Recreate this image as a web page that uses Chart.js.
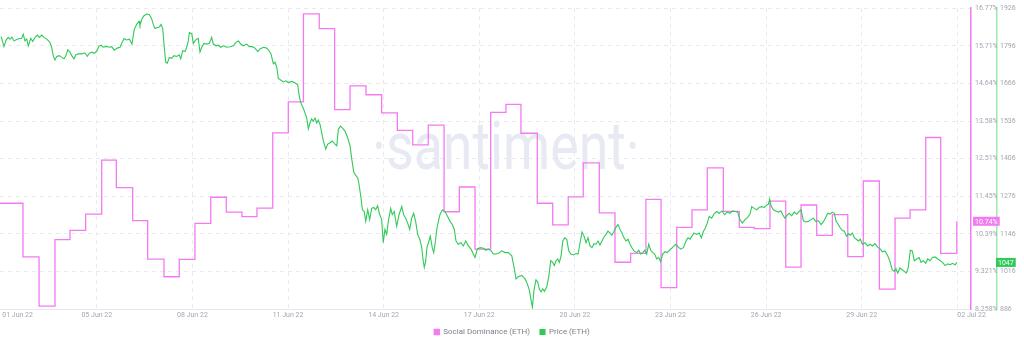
<!DOCTYPE html>
<html><head><meta charset="utf-8">
<script src="https://cdn.jsdelivr.net/npm/chart.js@4/dist/chart.umd.min.js"></script>
<style>html,body{margin:0;padding:0;background:#fff;overflow:hidden}canvas{display:block}</style>
</head><body>
<canvas id="c" width="1024" height="347"></canvas>
<script>
// ---- data (hours from 02 Jun 00:00) ----
const xTickHours = [0,72,144,216,288,360,432,504,576,648,720];
const xTickLabels = ["01 Jun 22","05 Jun 22","08 Jun 22","11 Jun 22","14 Jun 22","17 Jun 22","20 Jun 22","23 Jun 22","26 Jun 22","29 Jun 22","02 Jul 22"];
const dominanceTicks = ["8.258%","9.321%","10.39%","11.45%","12.51%","13.58%","14.64%","15.71%","16.77%"];
const priceTicks = [886,1016,1146,1276,1406,1536,1666,1796,1926];

const dominanceSeries = [[-1,11.25],[16.4,9.73],[28.5,8.34],[40.5,10.22],[51.8,10.48],[63.6,10.94],[75.7,12.47],[86.7,11.69],[99.0,10.76],[110.3,9.67],[122.6,9.17],[134.1,9.66],[145.9,10.68],[157.8,11.42],[169.5,11.00],[181.3,10.87],[192.6,11.11],[204.5,13.24],[216.2,14.12],[227.6,16.61],[239.5,16.19],[251.1,13.90],[262.7,14.57],[274.7,14.32],[286.5,13.81],[298.3,13.31],[309.9,12.90],[321.6,13.46],[333.5,11.01],[345.0,11.71],[356.8,9.95],[368.6,13.82],[380.1,14.05],[391.4,13.23],[403.7,11.25],[415.3,10.64],[427.0,11.43],[438.3,12.39],[450.4,10.98],[462.2,9.58],[474.0,9.83],[485.5,11.36],[496.9,8.86],[508.7,10.57],[520.2,11.06],[531.7,12.25],[543.8,11.02],[555.8,10.57],[567.1,10.53],[578.9,11.31],[590.8,9.44],[602.3,11.20],[614.1,10.34],[625.9,10.93],[637.5,9.74],[649.2,11.88],[661.3,8.82],[673.1,10.83],[684.4,11.06],[696.2,13.11],[707.5,9.83],[719.6,10.74]];

const priceSeries = [[0,1828],[2.1,1793],[3.6,1815],[5.3,1825],[6.6,1819],[8.1,1826],[9.6,1813],[11.7,1818],[13.6,1821],[15.4,1822],[16.6,1836],[17.9,1813],[19.2,1820],[20.4,1796],[22.2,1822],[23.7,1811],[25.5,1825],[27.2,1833],[28.7,1825],[30.5,1833],[32.2,1825],[34.3,1819],[36.7,1808],[38.0,1791],[39.2,1762],[40.5,1747],[41.8,1759],[43.8,1762],[45.6,1756],[47.3,1751],[48.8,1762],[50.1,1782],[51.8,1774],[53.1,1762],[54.8,1751],[56.3,1765],[58.1,1768],[60.6,1768],[63.1,1771],[64.8,1760],[66.3,1770],[68.2,1774],[69.9,1770],[71.9,1776],[73.6,1794],[75.2,1798],[76.9,1791],[78.9,1794],[81.4,1791],[83.2,1793],[85.2,1781],[87.4,1788],[89.5,1791],[90.7,1804],[92.5,1821],[94.5,1816],[96.5,1819],[98.5,1802],[100.2,1853],[102.0,1870],[103.8,1881],[104.5,1867],[105.8,1887],[107.5,1900],[109.6,1906],[111.5,1904],[113.3,1890],[114.5,1870],[115.8,1856],[117.6,1859],[119.1,1861],[120.3,1870],[121.6,1856],[122.8,1791],[123.9,1739],[125.1,1736],[126.6,1756],[128.4,1753],[130.1,1762],[132.2,1759],[134.1,1765],[135.2,1751],[136.7,1779],[138.4,1776],[139.7,1791],[140.9,1813],[141.7,1842],[143.5,1838],[144.7,1804],[145.9,1813],[147.2,1819],[148.4,1822],[149.7,1774],[151.0,1791],[152.7,1804],[154.8,1802],[156.7,1804],[158.5,1825],[159.7,1802],[161.8,1796],[163.5,1798],[165.3,1791],[167.3,1796],[169.8,1791],[172.3,1793],[174.8,1796],[176.8,1808],[178.6,1813],[180.4,1802],[182.3,1796],[184.9,1802],[186.8,1793],[189.1,1793],[191.1,1788],[193.2,1776],[194.9,1785],[197.4,1791],[199.9,1788],[201.7,1779],[203.2,1768],[204.9,1734],[206.2,1739],[207.5,1722],[208.7,1683],[210.7,1677],[212.4,1671],[214.2,1675],[216.2,1669],[218.8,1673],[221.2,1668],[223.3,1660],[224.5,1620],[225.8,1597],[227.5,1580],[228.8,1563],[230.1,1546],[231.3,1509],[232.5,1529],[233.8,1543],[235.0,1535],[236.3,1546],[237.6,1529],[238.8,1539],[240.1,1524],[241.4,1495],[242.6,1467],[244.4,1439],[245.9,1456],[247.6,1461],[249.3,1467],[250.8,1459],[252.7,1450],[253.9,1507],[255.4,1518],[256.9,1512],[258.9,1501],[260.9,1478],[262.7,1450],[264.0,1404],[265.5,1359],[267.0,1348],[268.5,1339],[269.4,1319],[271.0,1268],[272.0,1229],[273.4,1223],[274.5,1189],[276.0,1229],[277.5,1195],[279.0,1234],[280.5,1237],[282.0,1229],[283.5,1243],[284.7,1217],[286.5,1195],[287.7,1115],[289.0,1161],[290.3,1144],[291.5,1189],[293.3,1234],[294.5,1212],[296.0,1223],[297.8,1172],[299.6,1212],[301.6,1240],[303.1,1212],[304.6,1200],[306.1,1183],[307.6,1161],[309.1,1200],[310.6,1217],[312.1,1189],[313.6,1144],[315.2,1127],[316.7,1098],[317.6,1059],[318.6,1030],[319.7,1053],[320.6,1098],[322.1,1121],[323.1,1138],[324.6,1098],[325.7,1081],[326.7,1110],[328.0,1161],[329.2,1189],[330.4,1212],[332.2,1229],[334.2,1223],[336.2,1206],[338.0,1189],[339.7,1178],[341.2,1161],[342.5,1121],[344.2,1110],[346.3,1115],[348.0,1104],[349.8,1121],[351.8,1104],[353.8,1093],[355.5,1076],[356.8,1064],[358.5,1093],[360.6,1098],[363.1,1096],[364.9,1089],[366.8,1093],[368.9,1087],[370.6,1076],[371.9,1076],[374.4,1078],[376.9,1087],[379.4,1081],[381.9,1081],[384.5,1070],[386.2,1030],[387.7,990],[389.4,998],[392.0,1002],[394.5,990],[396.2,973],[397.7,951],[398.8,922],[400.0,892],[401.2,951],[402.7,987],[404.0,979],[405.2,956],[406.5,945],[407.8,956],[409.0,947],[410.8,962],[412.3,996],[413.8,1053],[415.3,1047],[416.5,1036],[417.8,1053],[419.1,1059],[420.3,1047],[421.6,1070],[422.9,1121],[424.4,1132],[425.9,1127],[427.4,1087],[428.9,1076],[430.9,1073],[432.9,1078],[434.4,1076],[435.9,1115],[437.4,1152],[438.9,1138],[440.4,1115],[441.9,1132],[443.4,1104],[444.9,1098],[446.4,1112],[447.9,1110],[449.4,1121],[450.9,1107],[452.4,1121],[453.9,1135],[455.4,1144],[456.9,1155],[458.4,1149],[459.9,1141],[461.5,1155],[463.0,1169],[464.5,1178],[466.0,1161],[467.5,1149],[469.0,1132],[470.5,1121],[472.0,1127],[473.5,1110],[475.0,1098],[476.5,1087],[478.6,1081],[480.1,1089],[481.6,1076],[483.1,1081],[484.6,1089],[486.1,1076],[487.6,1110],[489.1,1089],[490.6,1081],[492.1,1076],[493.6,1059],[495.1,1064],[496.6,1050],[498.1,1076],[499.9,1084],[501.6,1081],[503.1,1089],[504.9,1096],[506.6,1104],[508.2,1110],[509.9,1100],[511.7,1093],[513.7,1098],[515.7,1121],[517.2,1132],[518.7,1127],[520.2,1138],[521.7,1149],[523.7,1144],[525.7,1149],[527.2,1132],[528.7,1153],[530.2,1166],[531.7,1183],[533.2,1206],[535.0,1200],[536.7,1214],[538.8,1223],[540.7,1217],[542.8,1225],[544.8,1212],[546.7,1221],[548.8,1217],[550.8,1225],[552.6,1223],[554.6,1221],[556.3,1195],[558.1,1183],[560.1,1195],[562.1,1203],[563.9,1214],[565.2,1240],[567.1,1234],[568.9,1229],[570.7,1237],[572.7,1240],[574.7,1237],[576.5,1246],[577.7,1248],[578.7,1266],[579.7,1243],[581.5,1229],[583.3,1225],[585.2,1221],[587.2,1225],[588.5,1212],[590.2,1200],[591.5,1209],[593.3,1217],[595.3,1209],[597.2,1221],[599.1,1214],[600.8,1223],[602.3,1229],[604.1,1191],[605.9,1187],[607.8,1189],[609.9,1195],[611.6,1200],[613.4,1189],[615.4,1191],[617.4,1178],[619.1,1187],[620.9,1203],[622.5,1217],[624.2,1214],[625.9,1221],[627.4,1217],[628.7,1189],[630.4,1178],[631.9,1166],[633.4,1157],[635.0,1155],[636.5,1138],[638.0,1146],[639.5,1141],[641.0,1149],[642.5,1132],[644.0,1127],[645.5,1121],[647.0,1127],[648.5,1110],[650.5,1115],[652.5,1104],[654.3,1110],[656.0,1104],[658.0,1112],[660.0,1100],[662.0,1093],[663.5,1084],[665.5,1087],[667.6,1070],[669.3,1050],[671.0,1021],[672.5,1016],[673.8,1025],[675.1,1010],[676.8,1028],[678.6,1021],[680.1,1016],[681.6,1010],[683.1,1030],[684.6,1089],[686.1,1087],[687.6,1053],[689.4,1059],[691.2,1064],[692.7,1047],[694.4,1053],[696.2,1044],[697.7,1059],[699.5,1053],[701.2,1064],[703.2,1066],[705.3,1059],[707.2,1053],[708.8,1047],[710.8,1036],[712.8,1042],[714.6,1039],[716.3,1044],[718.3,1039],[719.8,1047]];

// ---- style ----
const PINK = '#f37af1';
const GREEN = '#2fca58';
const TICK_COLOR = '#a2a6b0';
const GRID_COLOR = '#e9eaee';
const FONT = 'Roboto, "Open Sans", sans-serif';
Chart.defaults.font.family = FONT;

const overlay = {
  id: 'overlay',
  beforeDatasetsDraw(chart) {
    const {ctx, chartArea: a} = chart;
    const text = '\u00B7santiment\u00B7';
    ctx.save();
    ctx.font = '400 66px Roboto, sans-serif';
    ctx.fillStyle = '#e7eaf2';
    ctx.textAlign = 'center';
    ctx.textBaseline = 'alphabetic';
    const targetW = (a.right - a.left) * 0.276;
    const sx = targetW / ctx.measureText(text).width;
    ctx.translate(a.left + (a.right - a.left) * 0.521, a.top + (a.bottom - a.top) * 0.534);
    ctx.scale(sx, 1);
    ctx.fillText(text, 0, 0);
    ctx.restore();
  },
  afterDraw(chart) {
    const {ctx} = chart;
    const xs = chart.scales.x;
    ctx.save();
    ctx.font = '7px ' + FONT;
    ctx.fillStyle = TICK_COLOR;
    ctx.textBaseline = 'middle';
    const lastI = xTickHours.length - 1;
    xTickHours.forEach((h, i) => {
      const px = xs.getPixelForValue(h);
      ctx.textAlign = (i === 0 || i === lastI) ? 'left' : 'center';
      ctx.fillText(xTickLabels[i], i === 0 ? px + 1 : px, xs.top + 6);
    });
    // last value tags
    const ySD = chart.scales.ySD, yP = chart.scales.yP;
    const lastSD = dominanceSeries[dominanceSeries.length - 1][1];
    const lastP = priceSeries[priceSeries.length - 1][1];
    const t1 = lastSD.toFixed(2) + '%';
    const t2 = String(lastP);
    ctx.textAlign = 'left';
    let py = ySD.getPixelForValue(lastSD);
    let w = ctx.measureText(t1).width + 4;
    ctx.fillStyle = PINK;
    ctx.fillRect(ySD.left + 2, py - 4.5, w, 9);
    ctx.fillStyle = '#ffffff';
    ctx.fillText(t1, ySD.left + 4, py + 0.5);
    py = yP.getPixelForValue(lastP);
    w = ctx.measureText(t2).width + 4;
    ctx.fillStyle = GREEN;
    ctx.fillRect(yP.left - 1, py - 4.5, w, 9);
    ctx.fillStyle = '#ffffff';
    ctx.fillText(t2, yP.left + 1, py + 0.5);
    ctx.restore();
  }
};

new Chart(document.getElementById('c'), {
  type: 'line',
  data: {
    datasets: [
      {
        label: 'Social Dominance (ETH)',
        data: dominanceSeries.map(([x, y]) => ({x, y})),
        yAxisID: 'ySD',
        borderColor: PINK, backgroundColor: PINK,
        borderWidth: 1.3, stepped: 'before', pointRadius: 0, fill: false, order: 2
      },
      {
        label: 'Price (ETH)',
        data: priceSeries.map(([x, y]) => ({x, y})),
        yAxisID: 'yP',
        borderColor: GREEN, backgroundColor: GREEN,
        borderWidth: 1.1, pointRadius: 0, fill: false, tension: 0, order: 1
      }
    ]
  },
  options: {
    responsive: false,
    animation: false,
    events: [],
    layout: {padding: {left: 0, right: 0, top: 0, bottom: 1}},
    scales: {
      x: {
        type: 'linear', min: -0.9, max: 730.3,
        afterBuildTicks: s => { s.ticks = xTickHours.map(v => ({value: v})); },
        afterFit: s => { s.height = 9; },
        ticks: {display: false},
        grid: {color: c => c.index === 0 ? 'rgba(0,0,0,0)' : GRID_COLOR, drawTicks: false, tickLength: 0, lineWidth: 1},
        border: {display: true, color: '#e6e7eb', width: 1, dash: [4, 4]}
      },
      ySD: {
        type: 'linear', position: 'right', weight: 0,
        min: 8.25752, max: 16.76912,
        afterFit: s => { s.width = 26; },
        ticks: {count: 9, callback: (v, i) => dominanceTicks[i], font: {size: 7}, color: TICK_COLOR, padding: 4, autoSkip: false},
        grid: {color: GRID_COLOR, drawTicks: false, tickLength: 0, lineWidth: 1},
        border: {display: true, color: PINK, width: 1.5, dash: [4, 4]}
      },
      yP: {
        type: 'linear', position: 'right', weight: 1,
        min: 886, max: 1926,
        afterFit: s => { s.width = 27; },
        ticks: {count: 9, callback: (v, i) => priceTicks[i], font: {size: 7}, color: TICK_COLOR, padding: 3, autoSkip: false},
        grid: {drawOnChartArea: false, drawTicks: false, tickLength: 0},
        border: {display: true, color: 'rgba(38,201,83,0.45)', width: 1.5}
      }
    },
    plugins: {
      legend: {
        position: 'bottom',
        labels: {
          boxWidth: 5, boxHeight: 5, font: {size: 8}, color: '#7c808a', padding: 10,
          sort: (a, b) => a.datasetIndex - b.datasetIndex
        }
      },
      tooltip: {enabled: false}
    }
  },
  plugins: [overlay]
});
</script>
</body></html>
